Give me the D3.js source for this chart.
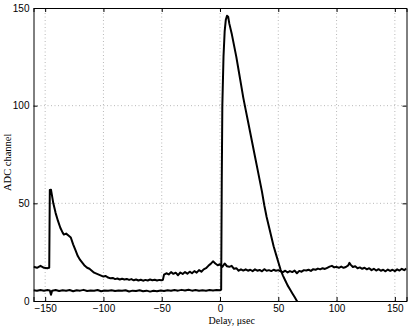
<!DOCTYPE html>
<html>
<head>
<meta charset="utf-8">
<script src="https://cdn.jsdelivr.net/npm/d3@7"></script>
<style>
  body { margin: 0; background: #fff; }
  svg { display: block; font-family: "Liberation Serif", "DejaVu Serif", serif; }
  .tick text { font-size: 10px; fill: #000; }
  .grid line { stroke: #b8b8b8; stroke-dasharray: 1,2.5; }
</style>
</head>
<body>
<svg id="canvas" width="409" height="329"></svg>
<script>
// trace with early jump at -146 us
const delay1 = [-160,-157,-154,-151,-148,-147,-146.5,-146,-145,-143,-141,-139,-137,-135,-134,-132,-130,-128,-126,-124,-122,-120,-118,-116,-114,-112,-110,-108,-106,-104,-102,-100,-98,-96,-94,-92,-90,-88,-86,-84,-82,-80,-78,-76,-74,-72,-70,-68,-66,-64,-62,-60,-58,-56,-54,-52,-50,-49,-48,-46,-44,-42,-40,-38,-36,-34,-32,-30,-28,-26,-24,-22,-20,-18,-16,-14,-12,-10,-8,-6,-4,-2,0,2,4,6,8,10,12,14,16,18,20,22,24,26,28,30,32,34,36,38,40,42,44,46,48,50,52,54,56,58,60,62,64,66,68,70,72,74,76,78,80,82,84,86,88,90,92,94,96,98,100,102,104,106,108,110,111,112,114,116,118,120,122,124,126,128,130,132,134,136,138,140,142,144,146,148,150,152,154,156,158,160];
const adc1 = [17.5,17,18,17,16.8,17,17,56.8,57,50,45,41,37.5,35,34,34.5,33.5,32.5,29,26,23,21,19.5,18,17,16.5,15.5,14.5,14,13.5,13,12.5,12.8,12,11.6,11.8,11.2,11.5,11,11.4,11,11.3,10.8,11.2,10.6,11,10.5,10.9,10.4,10.8,10.5,11,10.6,10.9,10.5,10.8,10.6,10.8,13.5,14.2,13.6,14.8,13.9,14.5,13.2,14.6,13.8,14.8,14,15,14.2,15.3,14.5,15.8,15,16.2,16.8,18,19,20.3,19.2,18.3,18.8,17.5,19.2,17.8,17.5,18,16.5,16.8,15.5,16.2,15.6,16.2,15.5,16,15.3,16.2,15.5,15.9,15.2,16.3,15.5,15.8,15.3,16,15.5,15.8,15.2,14.8,15.5,14.6,15.3,14.8,15.6,14.2,15.4,15,15.8,15.6,16,15.4,16.3,16,16.6,16.2,16.8,16.4,17,17.6,18,17.2,17.5,17,17.6,17,17.4,18.2,19.5,18.6,17.4,17.8,16.8,17.2,16.5,17,16.2,16.8,15.8,16.5,15.6,16.3,15.5,16,15.2,16.1,15.4,16,15.3,16.2,15.6,16.5,15.8,16.6];

// trace with main pulse at 0 us
const delay2 = [-160,-157,-154,-151,-148,-146,-145,-144,-141,-138,-135,-132,-129,-126,-123,-120,-117,-114,-111,-108,-105,-102,-99,-96,-93,-90,-87,-84,-81,-78,-75,-72,-69,-66,-63,-60,-57,-54,-51,-48,-45,-42,-39,-36,-33,-30,-27,-24,-21,-18,-15,-12,-9,-6,-3,0,1,1.5,2,3,4,5,6,7,8,10,12,14,16,18,20,22,24,26,28,30,32,34,36,38,40,42,44,46,48,50,52,54,56,58,60,62,64,66,68];
const adc2 = [5.5,5.2,5.6,5.3,5.6,5.4,3.2,5.3,5.6,5.1,5.5,5.2,5.6,5.0,5.5,5.3,5.7,5.1,5.4,5.2,5.6,5.0,5.4,5.2,5.5,5.1,5.4,5.2,5.5,4.9,5.3,5.1,5.5,5.0,5.3,4.8,5.2,5.0,5.4,5.1,5.5,5.2,5.6,5.3,5.7,5.4,5.8,5.3,5.6,5.2,5.5,5.3,5.6,5.4,5.6,5.5,5.8,60,100,125,138,144,146,145.5,142,137,131,125,118,111,104,98,92,86,80,74,68,62,56,49,43,38,33,28,24,20,16,13,10.5,8,6,4,2,0,-2];

const xTicks = [-150,-100,-50,0,50,100,150];
const yTicks = [0,50,100,150];

const width = 409, height = 329;
const margin = { left: 33.5, right: 2.5, top: 8, bottom: 28 };
const svg = d3.select("#canvas");

const x = d3.scaleLinear().domain([-160, 160]).range([margin.left, width - margin.right]);
const y = d3.scaleLinear().domain([0, 150]).range([height - margin.bottom, margin.top]);

const fmt = d => (d < 0 ? "\u2212" + Math.abs(d) : String(d));

// grid
svg.append("g").attr("class", "grid")
  .selectAll("line").data(xTicks.filter(d => d > -160 && d < 160)).enter().append("line")
  .attr("x1", d => x(d)).attr("x2", d => x(d))
  .attr("y1", y(0)).attr("y2", y(150));
svg.append("g").attr("class", "grid")
  .selectAll("line").data(yTicks.filter(d => d > 0 && d < 150)).enter().append("line")
  .attr("x1", x(-160)).attr("x2", x(160))
  .attr("y1", d => y(d)).attr("y2", d => y(d));

// traces
svg.append("clipPath").attr("id", "clip").append("rect")
  .attr("x", x(-160)).attr("y", y(150))
  .attr("width", x(160) - x(-160)).attr("height", y(0) - y(150));

const line = d3.line().x(d => x(d[0])).y(d => y(d[1]));
const traces = [d3.zip(delay1, adc1), d3.zip(delay2, adc2)];
svg.append("g").attr("clip-path", "url(#clip)")
  .selectAll("path").data(traces).enter().append("path")
  .attr("d", line)
  .attr("fill", "none")
  .attr("stroke", "#000")
  .attr("stroke-width", 2)
  .attr("stroke-linejoin", "round");

// axes, ticks inward
const xAxis = d3.axisBottom(x).tickValues(xTicks).tickFormat(fmt).tickSize(-4).tickPadding(4);
const yAxis = d3.axisLeft(y).tickValues(yTicks).tickFormat(fmt).tickSize(-4).tickPadding(4);
const xTop = d3.axisTop(x).tickValues(xTicks).tickFormat("").tickSize(-4);
const yRight = d3.axisRight(y).tickValues(yTicks).tickFormat("").tickSize(-4);

svg.append("g").attr("transform", `translate(0,${y(0)})`).call(xAxis);
svg.append("g").attr("transform", `translate(${x(-160)},0)`).call(yAxis);
svg.append("g").attr("transform", `translate(0,${y(150)})`).call(xTop);
svg.append("g").attr("transform", `translate(${x(160)},0)`).call(yRight);
svg.selectAll(".domain").attr("stroke", "#000");
svg.selectAll(".tick line").attr("stroke", "#000");

// labels
svg.append("text")
  .attr("x", x(10)).attr("y", 324)
  .attr("text-anchor", "middle")
  .style("font-size", "10px")
  .text("Delay, \u03bcsec");
svg.append("text")
  .attr("transform", `translate(11,${y(71)}) rotate(-90)`)
  .attr("text-anchor", "middle")
  .style("font-size", "10.5px")
  .text("ADC channel");
</script>
</body>
</html>
